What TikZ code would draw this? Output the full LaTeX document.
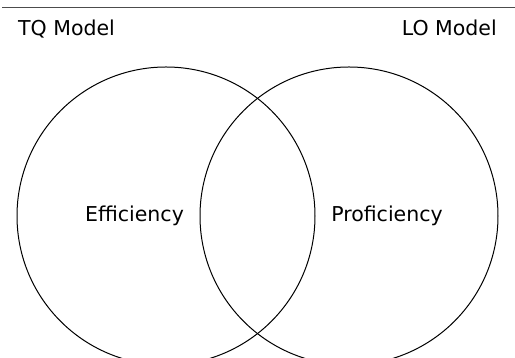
\documentclass[tikz,border=0pt]{standalone}
\usepackage{fontspec}
\setmainfont{DejaVu Sans}
\usetikzlibrary{positioning}

\begin{document}
\begin{tikzpicture}[
  x=1pt, y=1pt,
  font=\fontsize{20.5}{24}\selectfont,
  set/.style={circle, draw=black, line width=1pt, minimum size=298pt, inner sep=0pt},
  lbl/.style={anchor=base, inner sep=0pt},
  rule/.style={draw=black!70, line width=1.3pt},
]
\useasboundingbox (0,0) rectangle (515,358);
\clip (0,0) rectangle (515,358);
% header rule and model titles
\coordinate (ruleL) at (2,350.5);
\coordinate (ruleR) at (515,350.5);
\draw[rule] (ruleL) -- (ruleR);
\node[lbl, anchor=base west] (tq) at (18,322) {TQ Model};
\node[lbl, anchor=base east] (lo) at (497,322) {LO Model};
% the two overlapping sets
\node[set] (left) at (166,142) {};
\node[set] (right) at (349,142) {};
\node[lbl] (eff) at (134.5,136) {Efficiency};
\node[lbl] (prof) at (387,136) {Proficiency};
\end{tikzpicture}
\end{document}
